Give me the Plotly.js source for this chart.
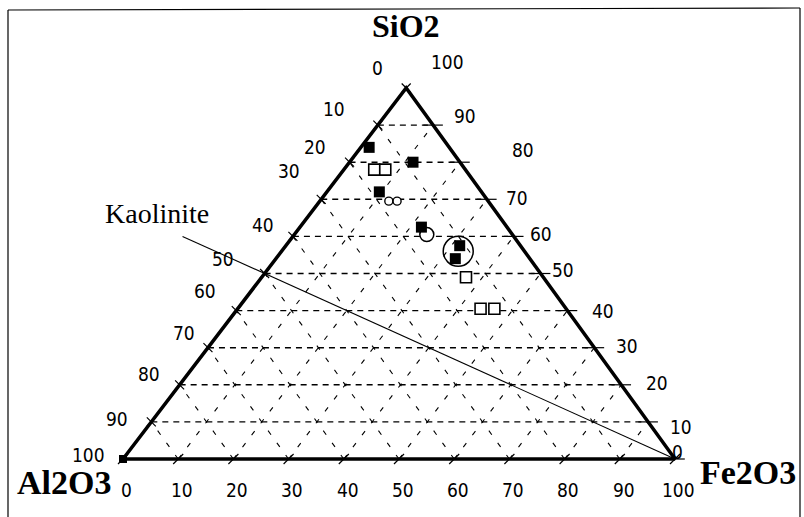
<!DOCTYPE html>
<html>
<head>
<meta charset="utf-8">
<script src="https://cdn.plot.ly/plotly-3.0.1.min.js"></script>
<style>
  html, body { margin: 0; padding: 0; background: #fff; }
  #chart { width: 804px; height: 517px; }
</style>
</head>
<body>
<div id="chart"></div>
<script>
// Sample compositions (wt %), SiO2 and Fe2O3 read per sample; Al2O3 is the remainder.
const filledSiO2  = [84, 80, 72, 62.5, 57.5, 54];
const filledFe2O3 = [1.5, 11.5, 9.5, 22, 31.5, 32.5];

const openSquareSiO2  = [78, 78, 49, 40.5, 40.5];
const openSquareFe2O3 = [5.5, 7.5, 37, 44, 46.5];

const smallCircleSiO2  = [69.5, 69.5];
const smallCircleFe2O3 = [12.5, 14];

const openCircleSiO2  = [60.5];
const openCircleFe2O3 = [24];

const ringSiO2  = [56];
const ringFe2O3 = [32];

// Kaolinite – Fe2O3 join, extended past the Al2O3–SiO2 side
const kaoliniteSiO2  = [60, 0];
const kaoliniteFe2O3 = [-20, 100];

// Tick labels along the three sides
const gridSteps    = [0, 10, 20, 30, 40, 50, 60, 70, 80, 90, 100];
const bottomLabels = ['0','10','20','30','40','50','60','70','80','90','100'];
const leftLabels   = ['0','10','20','30','40','50','60','70','80','90','100'];
const rightLabels  = ['100','90','80','70','60','50','40','30','20','10','0'];

// Hand-set label placement (pixels in the 804x517 figure)
const leftLabelPos  = [[377,68],[334,109],[315,147],[289,171],[263,225],[223,259],[205,291],[184,333],[149,374],[117,419],[88,455]];
const rightLabelPos = [[447,62],[465,116],[523,150],[517,198],[541,234],[563,270],[603,311],[627,346],[657,383],[681,427],[677,452]];

// Projection of (SiO2, Fe2O3) onto the drawing plane; apex leans slightly right
const SKEW = 0.513;
const px = (si, fe) => fe + SKEW * si;

const al = (si, fe) => si.map((s, i) => +(100 - s - fe[i]).toFixed(1));

function segs(list) {
  const x = [], y = [];
  list.forEach(([a, b]) => { x.push(px(a[0], a[1]), px(b[0], b[1]), null); y.push(a[0], b[0], null); });
  return {x, y};
}

const inner = gridSteps.slice(1, -1);
const horiz = segs(inner.map(s => [[s, 0], [s, 100 - s]]));
const diag = segs([
  ...inner.map(f => [[0, f], [100 - f, f]]),
  ...inner.map(a => [[0, 100 - a], [100 - a, 0]])
]);

const W = 804, H = 517;
const X0 = 123, XS = 5.52, Y0 = 459, YS = 3.71;

const traces = [];

traces.push({ x: horiz.x, y: horiz.y, mode: 'lines', hoverinfo: 'skip',
  line: { color: '#000', width: 1.4, dash: '6px,5px' } });
traces.push({ x: diag.x, y: diag.y, mode: 'lines', hoverinfo: 'skip',
  line: { color: '#000', width: 1.1, dash: '5px,10px' } });

// Kaolinite join
traces.push({ x: kaoliniteSiO2.map((s, i) => px(s, kaoliniteFe2O3[i])), y: kaoliniteSiO2,
  mode: 'lines', hoverinfo: 'skip', line: { color: '#000', width: 1.1 } });

// Triangle frame
traces.push({ x: [px(0,0), px(100,0), px(0,100), px(0,0)], y: [0, 100, 0, 0],
  mode: 'lines', hoverinfo: 'skip', line: { color: '#000', width: 3.5 } });

// Side ticks
traces.push({ x: gridSteps.slice(1).map(s => px(s, 0)), y: gridSteps.slice(1), mode: 'markers', hoverinfo: 'skip',
  marker: { symbol: 'x-thin', size: 9, line: { color: '#000', width: 1.2 } } });
traces.push({ x: gridSteps.slice(0, -1).map(s => px(s, 100 - s)), y: gridSteps.slice(0, -1), mode: 'markers', hoverinfo: 'skip',
  marker: { symbol: 'line-ew', size: 14, line: { color: '#000', width: 1.2 } } });
traces.push({ x: gridSteps.map(f => px(0, f)), y: gridSteps.map(() => 0), mode: 'markers', hoverinfo: 'skip',
  marker: { symbol: 'line-ne', size: 10, line: { color: '#000', width: 1.2 } } });
traces.push({ x: [px(0, 0)], y: [0], mode: 'markers', hoverinfo: 'skip',
  marker: { symbol: 'square', size: 8, color: '#000' } });

function samples(si, fe, marker) {
  const a = al(si, fe);
  return { x: si.map((s, i) => px(s, fe[i])), y: si, mode: 'markers', marker,
    text: si.map((s, i) => `SiO2 ${s}<br>Fe2O3 ${fe[i]}<br>Al2O3 ${a[i]}`), hoverinfo: 'text' };
}

traces.push(samples(ringSiO2, ringFe2O3,
  { symbol: 'circle-open', size: 30, color: '#000', line: { width: 1.5, color: '#000' } }));
traces.push(samples(openSquareSiO2, openSquareFe2O3,
  { symbol: 'square', size: 11, color: '#fff', line: { width: 1.6, color: '#000' } }));
traces.push(samples(smallCircleSiO2, smallCircleFe2O3,
  { symbol: 'circle', size: 8, color: '#fff', line: { width: 1.4, color: '#000' } }));
traces.push(samples(openCircleSiO2, openCircleFe2O3,
  { symbol: 'circle', size: 14, color: '#fff', line: { width: 1.5, color: '#000' } }));
traces.push(samples(filledSiO2, filledFe2O3,
  { symbol: 'square', size: 11, color: '#000', line: { width: 0 } }));

const numFont = { family: 'DejaVu Sans Condensed, DejaVu Sans', stretch: 'condensed', size: 19, color: '#000' };
const serifBold = { family: 'Liberation Serif, Times New Roman, serif', size: 34, color: '#000', weight: 'bold' };

const toPaper = ([x, y]) => ({ x: x / W, y: 1 - y / H });
const centred = { showarrow: false, xanchor: 'center', yanchor: 'middle' };
const annotations = [];
leftLabels.forEach((t, i) => { const p = toPaper(leftLabelPos[i]);
  annotations.push({ ...centred, xref: 'paper', yref: 'paper', x: p.x, y: p.y, text: t, font: numFont }); });
rightLabels.forEach((t, i) => { const p = toPaper(rightLabelPos[i]);
  annotations.push({ ...centred, xref: 'paper', yref: 'paper', x: p.x, y: p.y, text: t, font: numFont }); });
bottomLabels.forEach((t, i) => {
  annotations.push({ ...centred, xref: 'x', yref: 'y', x: px(0, gridSteps[i]) + 0.7, y: -8.4, text: t, font: numFont }); });

[['SiO2', [406, 26], 32], ['Al2O3', [64, 482], 34], ['Fe2O3', [748, 472], 34]].forEach(([t, pos, size]) => {
  const p = toPaper(pos);
  annotations.push({ ...centred, xref: 'paper', yref: 'paper', x: p.x, y: p.y, text: t, font: { ...serifBold, size } });
});
{ const p = toPaper([157, 213]);
  annotations.push({ ...centred, xref: 'paper', yref: 'paper', x: p.x, y: p.y, text: 'Kaolinite',
    font: { family: 'Liberation Serif, Times New Roman, serif', size: 28, color: '#000' } }); }

const layout = {
  width: W, height: H,
  margin: { l: 0, r: 0, t: 0, b: 0 },
  paper_bgcolor: '#fff', plot_bgcolor: '#fff',
  showlegend: false,
  xaxis: { range: [-X0 / XS, (W - X0) / XS], visible: false, fixedrange: true },
  yaxis: { range: [(Y0 - H) / YS, Y0 / YS], visible: false, fixedrange: true },
  annotations,
  shapes: [
    { type: 'line', xref: 'paper', yref: 'paper', x0: 8 / W, y0: 1 - 10 / H, x1: 800 / W, y1: 1 - 8 / H, line: { color: '#000', width: 1.2 } },
    { type: 'line', xref: 'paper', yref: 'paper', x0: 8 / W, y0: 1 - 10 / H, x1: 8 / W, y1: 0, line: { color: '#000', width: 1.2 } },
    { type: 'line', xref: 'paper', yref: 'paper', x0: 800 / W, y0: 1 - 8 / H, x1: 800 / W, y1: 0, line: { color: '#000', width: 1.2 } }
  ]
};

Plotly.newPlot('chart', traces, layout, { staticPlot: true, displayModeBar: false });
</script>
</body>
</html>
